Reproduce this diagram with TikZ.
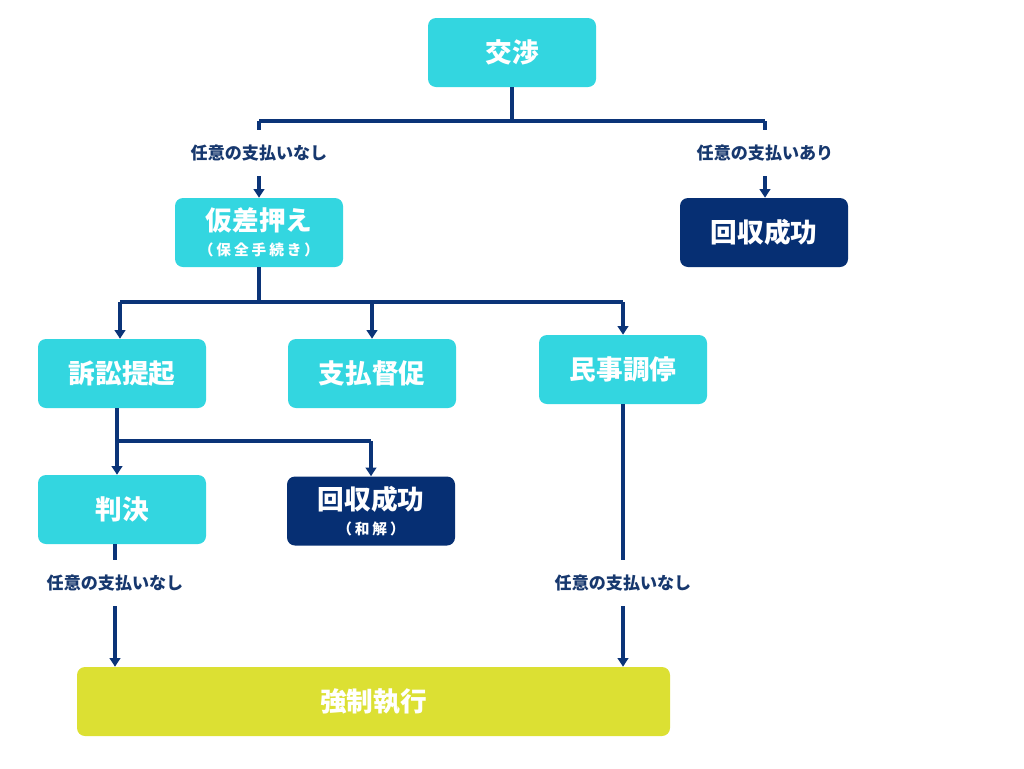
\documentclass[tikz,border=0pt]{standalone}
\usepackage{fontspec}
\setmainfont{Noto Sans CJK JP}
\usetikzlibrary{arrows.meta}
\definecolor{cyanbox}{RGB}{51,214,224}
\definecolor{navybox}{RGB}{6,47,115}
\definecolor{linecol}{RGB}{11,52,120}
\definecolor{labcol}{RGB}{23,56,110}
\definecolor{yellowbox}{RGB}{220,224,51}
\tikzset{
  box/.style={rounded corners=6pt, minimum width=126pt, minimum height=51.75pt, inner sep=0pt,
    text=white, font=\bfseries\fontsize{20}{22}\selectfont, align=center},
  cbox/.style={box, fill=cyanbox},
  nbox/.style={box, fill=navybox},
  ybox/.style={box, fill=yellowbox, minimum width=444.75pt},
  lab/.style={inner xsep=2pt, inner ysep=11.25pt, text=labcol, font=\bfseries\fontsize{12.8}{14}\selectfont},
  conn/.style={draw=linecol, line width=2.4pt},
  arr/.style={conn, -{Triangle[width=8pt,length=6.5pt]}},
}
\newfontfamily\subfont[LetterSpace=20]{Noto Sans CJK JP}
\newcommand{\subt}[1]{{\subfont\bfseries\fontsize{11}{12}\selectfont #1}}
\begin{document}
\begin{tikzpicture}[x=0.75pt,y=-0.75pt]
\useasboundingbox (0,0) rectangle (1024,768);
% nodes
\node[cbox] (kosho) at (512,52.5) {交渉};
\node[cbox] (kari) at (259,232.5) {仮差押え\\[-3pt]\subt{（保全手続き）}};
\node[nbox] (kaishu1) at (764,232.5) {回収成功};
\node[cbox] (sosho) at (122,373.5) {訴訟提起};
\node[cbox] (tokusoku) at (372,373.5) {支払督促};
\node[cbox] (minji) at (623,369.5) {民事調停};
\node[cbox] (hanketsu) at (122,509.5) {判決};
\node[nbox] (kaishu2) at (371,511) {回収成功\\[-3pt]\subt{（和解）}};
\node[ybox] (kyosei) at (373.5,701.5) {強制執行};
% labels
\node[lab] (l1) at (259,153) {任意の支払いなし};
\node[lab] (l2) at (765,153) {任意の支払いあり};
\node[lab] (l3) at (115,583) {任意の支払いなし};
\node[lab] (l4) at (623,583) {任意の支払いなし};
% junction coordinates
\coordinate (t1) at (259,121);
\coordinate (t2) at (765,121);
\coordinate (b1) at (120,302);
\coordinate (b2) at (623,302);
\coordinate (bm) at (372,302);
\coordinate (c1) at (117,441);
\coordinate (c2) at (371,441);
% connectors
\draw[conn] (kosho.south) -- (kosho.south |- t1);
\draw[conn] (t1) -- (t2);
\draw[conn] (t1) -- (l1.north);
\draw[conn] (t2) -- (l2.north);
\draw[arr] (l1.south) -- (kari.north);
\draw[arr] (l2.south) -- (l2.south |- kaishu1.north);
\draw[conn] (kari.south) -- (kari.south |- b1);
\draw[conn] (b1) -- (b2);
\draw[arr] (b1) -- (b1 |- sosho.north);
\draw[arr] (bm) -- (tokusoku.north);
\draw[arr] (b2) -- (minji.north);
\draw[conn] (c1 |- sosho.south) -- (c1);
\draw[arr] (c1) -- (c1 |- hanketsu.north);
\draw[conn] (c1) -- (c2);
\draw[arr] (c2) -- (kaishu2.north);
\draw[conn] (l3.north |- hanketsu.south) -- (l3.north);
\draw[arr] (l3.south) -- (l3.south |- kyosei.north);
\draw[conn] (minji.south) -- (l4.north);
\draw[arr] (l4.south) -- (l4.south |- kyosei.north);
\end{tikzpicture}
\end{document}
